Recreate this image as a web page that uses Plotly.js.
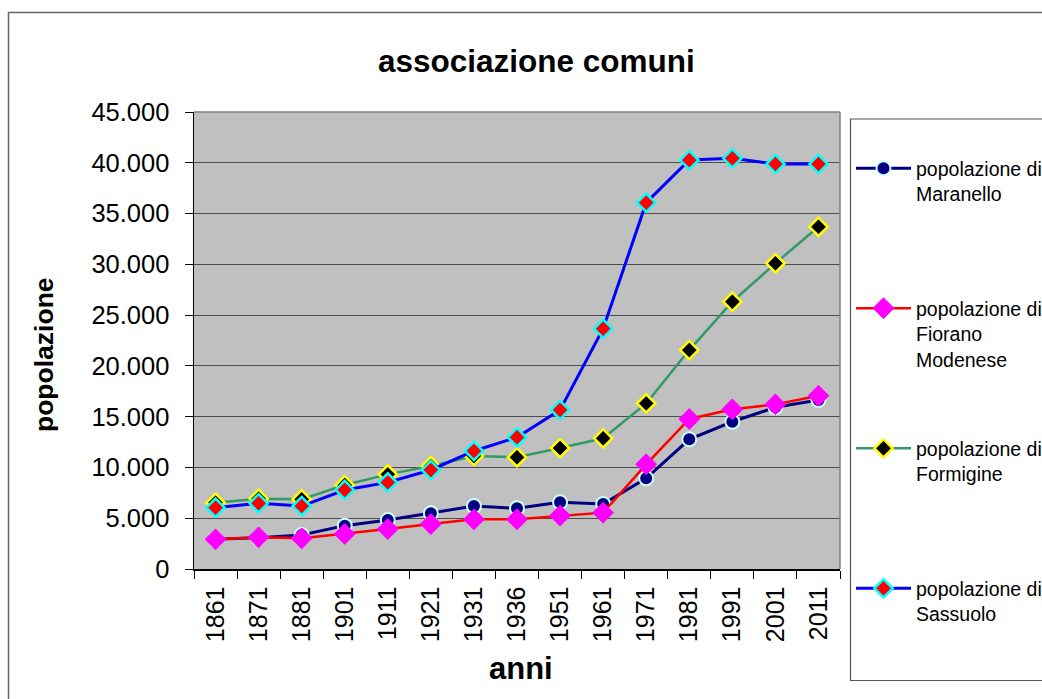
<!DOCTYPE html>
<html>
<head>
<meta charset="utf-8">
<script src="https://cdn.plot.ly/plotly-3.0.1.min.js"></script>
<style>
html,body{margin:0;padding:0;background:#fff;}
#chart{width:1042px;height:699px;}
</style>
</head>
<body>
<div id="chart"></div>
<script>
var years = ['1861','1871','1881','1901','1911','1921','1931','1936','1951','1961','1971','1981','1991','2001','2011'];
var maranello = [2920, 3080, 3350, 4270, 4820, 5480, 6200, 5980, 6570, 6400, 8930, 12770, 14500, 15920, 16640];
var fiorano   = [2920, 3120, 3020, 3450, 3940, 4430, 4890, 4890, 5250, 5550, 10310, 14770, 15720, 16210, 17060];
var formigine = [6530, 6920, 6860, 8270, 9320, 10140, 11130, 11000, 11910, 12870, 16310, 21560, 26320, 30100, 33700];
var sassuolo  = [6040, 6470, 6200, 7780, 8530, 9750, 11620, 12970, 15660, 23660, 36070, 40270, 40440, 39880, 39880];
var seriesNames = ['popolazione di<br>Maranello<br>\u00a0', 'popolazione di<br>Fiorano<br>Modenese', 'popolazione di<br>Formigine<br>\u00a0', 'popolazione di<br>Sassuolo'];

var FONT = 'Liberation Sans, Arial, sans-serif';

// pixel -> paper helpers (plot area: x 194..840, y 112..569)
var L = 194, R = 840, T = 112, B = 569;
function px(x){ return (x - L) / (R - L); }
function py(y){ return (B - y) / (B - T); }

var traces = [
  {x: years, y: maranello, name: seriesNames[0], legendgroup: 'a', type: 'scatter', mode: 'lines+markers',
   line: {color: '#000080', width: 3},
   marker: {symbol: 'circle', size: 14, color: '#000080', line: {color: '#ccffff', width: 2}}},
  {x: years, y: fiorano, name: seriesNames[1], legendgroup: 'b', type: 'scatter', mode: 'lines+markers',
   line: {color: '#ff0000', width: 2.5},
   marker: {symbol: 'diamond', size: 16, color: '#ff00ff', line: {color: '#ff00ff', width: 1}}},
  {x: years, y: formigine, name: seriesNames[2], legendgroup: 'c', type: 'scatter', mode: 'lines+markers',
   line: {color: '#339966', width: 2.5},
   marker: {symbol: 'diamond', size: 14, color: '#000000', line: {color: '#ffff00', width: 2.5}}},
  {x: years, y: sassuolo, name: seriesNames[3], legendgroup: 'd', type: 'scatter', mode: 'lines+markers',
   line: {color: '#0000ff', width: 3},
   marker: {symbol: 'diamond', size: 14, color: '#ff0000', line: {color: '#00ffff', width: 2.5}}}
];

var layout = {
  width: 1042, height: 699,
  margin: {l: L, r: 1042 - R, t: T, b: 699 - B, pad: 0, autoexpand: false},
  paper_bgcolor: '#ffffff',
  plot_bgcolor: '#c0c0c0',
  separators: ',.',
  font: {family: FONT, color: '#000000'},
  showlegend: true,
  legend: {
    x: px(851), xanchor: 'left', y: py(149), yanchor: 'top',
    bgcolor: 'rgba(0,0,0,0)', borderwidth: 0,
    font: {family: FONT, size: 19.5, color: '#000'},
    valign: 'top', tracegroupgap: 61, itemwidth: 55, maxheight: 560
  },
  xaxis: {
    type: 'category', range: [-0.5, 14.5], tickson: 'boundaries', ticks: 'outside', ticklen: 8, tickcolor: '#000',
    tickangle: -90, tickfont: {family: FONT, size: 25, color: '#000'},
    showline: true, linecolor: '#000', linewidth: 1.5, showgrid: false, zeroline: false,
    ticklabelstandoff: 6, fixedrange: true
  },
  yaxis: {
    range: [0, 45000], dtick: 5000, tickformat: ',d', ticks: 'outside', ticklen: 8, tickcolor: '#000',
    tickfont: {family: FONT, size: 25.5, color: '#000'},
    showline: true, linecolor: '#000', linewidth: 1.5, showgrid: true, gridcolor: '#4d4d4d', gridwidth: 1,
    zeroline: false, ticklabelstandoff: 10, fixedrange: true
  },
  annotations: [
    {text: '<b>associazione comuni</b>', xref: 'paper', yref: 'paper', x: px(536), y: py(61),
     xanchor: 'center', yanchor: 'middle', showarrow: false, font: {family: FONT, size: 31.5, color: '#000'}},
    {text: '<b>popolazione</b>', xref: 'paper', yref: 'paper', x: px(44), y: py(355), textangle: -90,
     xanchor: 'center', yanchor: 'middle', showarrow: false, font: {family: FONT, size: 26.5, color: '#000'}},
    {text: '<b>anni</b>', xref: 'paper', yref: 'paper', x: px(521), y: py(668),
     xanchor: 'center', yanchor: 'middle', showarrow: false, font: {family: FONT, size: 31, color: '#000'}}
  ],
  shapes: [
    {type: 'rect', xref: 'paper', yref: 'paper', x0: px(8.5), x1: px(1060), y0: py(720), y1: py(12.5),
     line: {color: '#666666', width: 1.5}, fillcolor: 'rgba(0,0,0,0)', layer: 'below'},
    {type: 'rect', xref: 'paper', yref: 'paper', x0: px(850.5), x1: px(1060), y0: py(680.5), y1: py(119),
     line: {color: '#555555', width: 1.2}, fillcolor: 'rgba(0,0,0,0)', layer: 'above'},
    {type: 'line', xref: 'paper', yref: 'paper', x0: 0, x1: 1, y0: 1, y1: 1,
     line: {color: '#808080', width: 1.5}, layer: 'above'},
    {type: 'line', xref: 'paper', yref: 'paper', x0: 1, x1: 1, y0: 0, y1: 1,
     line: {color: '#808080', width: 1.5}, layer: 'above'}
  ]
};

Plotly.newPlot('chart', traces, layout, {displayModeBar: false, staticPlot: true});
</script>
</body>
</html>
